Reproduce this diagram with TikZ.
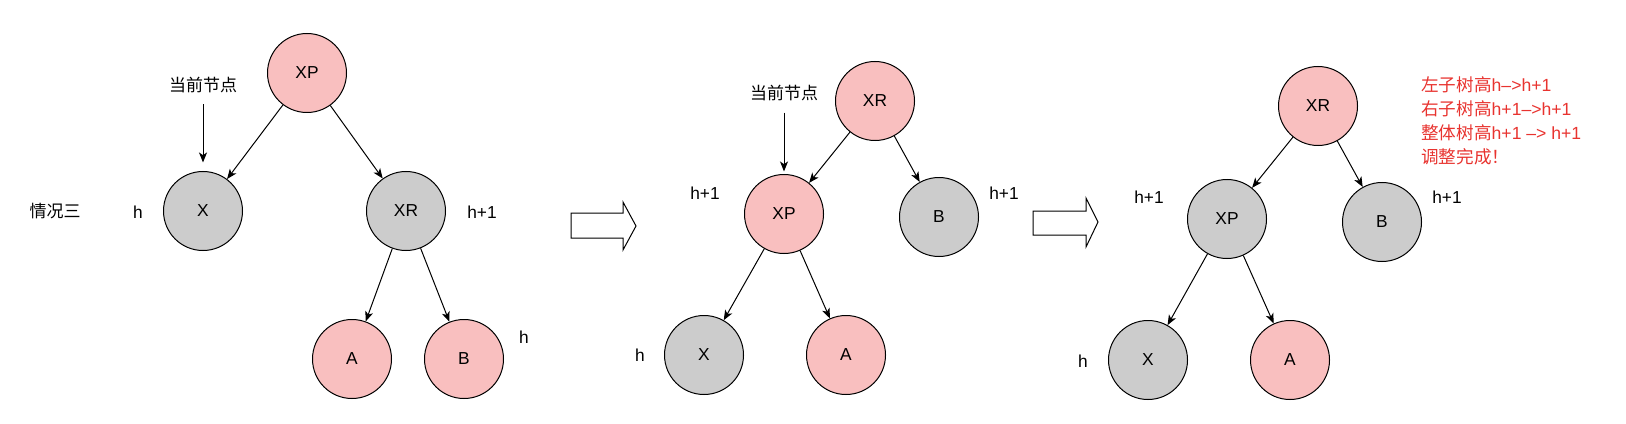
\documentclass[tikz,border=0pt]{standalone}
\usepackage{fontspec}
\setmainfont{Liberation Sans}
\newfontfamily\cjk{Noto Sans CJK SC}
\usetikzlibrary{arrows.meta}
\definecolor{pinkfill}{HTML}{F9BFBF}
\definecolor{grayfill}{HTML}{CCCCCC}
\definecolor{notered}{HTML}{E8332F}
\begin{document}
\begin{tikzpicture}[x=0.75pt,y=-0.75pt,
  tnode/.style={circle,draw=black,line width=0.75pt,minimum size=59.25pt,inner sep=0pt,font=\fontsize{13pt}{15pt}\selectfont},
  pk/.style={tnode,fill=pinkfill},
  gy/.style={tnode,fill=grayfill},
  lbl/.style={font=\fontsize{13pt}{15pt}\selectfont,inner sep=0pt},
  cn/.style={font=\cjk\fontsize{12.75pt}{15pt}\selectfont,inner sep=0pt},
  edge/.style={-{Stealth[length=7.5pt,width=6pt,inset=2pt]},line width=0.75pt},
  blockarrow/.style={draw=black,line width=0.75pt,fill=white,line join=miter}]
\useasboundingbox (0,0) rectangle (1626,424);

% ---------- tree 1 ----------
\node[pk] (xp1) at (307,73) {XP};
\node[gy] (x1) at (203,211) {X};
\node[gy] (xr1) at (406,211) {XR};
\node[pk] (a1) at (352,359) {A};
\node[pk] (b1) at (464,359) {B};
\node[cn] (cur1) at (203,85) {当前节点};
\node[cn] (case) at (55,211) {情况三};
\node[lbl] (h1a) at (138,212) {h};
\node[lbl] (h1b) at (482,212) {h+1};
\node[lbl] (h1c) at (524,337) {h};
\draw[edge] (xp1) -- (x1);
\draw[edge] (xp1) -- (xr1);
\draw[edge] (xr1) -- (a1);
\draw[edge] (xr1) -- (b1);
\draw[edge,shorten <=8.5pt,shorten >=6.4pt] (cur1) -- (x1);

% ---------- block arrow 1 ----------
\draw[blockarrow] (571,213) -- (623,213) -- (623,202) -- (636,226) -- (623,250) -- (623,238) -- (571,238) -- cycle;

% ---------- tree 2 ----------
\node[pk] (xr2) at (875,101) {XR};
\node[pk] (xp2) at (784,214) {XP};
\node[gy] (b2) at (939,217) {B};
\node[gy] (x2) at (704,355) {X};
\node[pk] (a2) at (846,355) {A};
\node[cn] (cur2) at (784,93) {当前节点};
\node[lbl] (h2a) at (705,193) {h+1};
\node[lbl] (h2b) at (1004,193) {h+1};
\node[lbl] (h2c) at (640,355) {h};
\draw[edge] (xr2) -- (xp2);
\draw[edge] (xr2) -- (b2);
\draw[edge] (xp2) -- (x2);
\draw[edge] (xp2) -- (a2);
\draw[edge,shorten <=8.6pt,shorten >=1.9pt] (cur2) -- (xp2);

% ---------- block arrow 2 ----------
\draw[blockarrow] (1033,211) -- (1086,211) -- (1086,198) -- (1098,222) -- (1086,247) -- (1086,235) -- (1033,235) -- cycle;

% ---------- tree 3 ----------
\node[pk] (xr3) at (1318,106) {XR};
\node[gy] (xp3) at (1227,219) {XP};
\node[gy] (b3) at (1382,222) {B};
\node[gy] (x3) at (1148,360) {X};
\node[pk] (a3) at (1290,360) {A};
\node[lbl] (h3a) at (1149,197) {h+1};
\node[lbl] (h3b) at (1447,197) {h+1};
\node[lbl] (h3c) at (1083,361) {h};
\draw[edge] (xr3) -- (xp3);
\draw[edge] (xr3) -- (b3);
\draw[edge] (xp3) -- (x3);
\draw[edge] (xp3) -- (a3);

\node[anchor=west,align=left,inner sep=0pt,text=notered,font=\fontsize{13.2pt}{18pt}\selectfont] (note) at (1421,121)
  {{\cjk 左子树高}h–>h+1\\{\cjk 右子树高}h+1–>h+1\\{\cjk 整体树高}h+1 –> h+1\\{\cjk 调整完成！}};
\end{tikzpicture}
\end{document}
